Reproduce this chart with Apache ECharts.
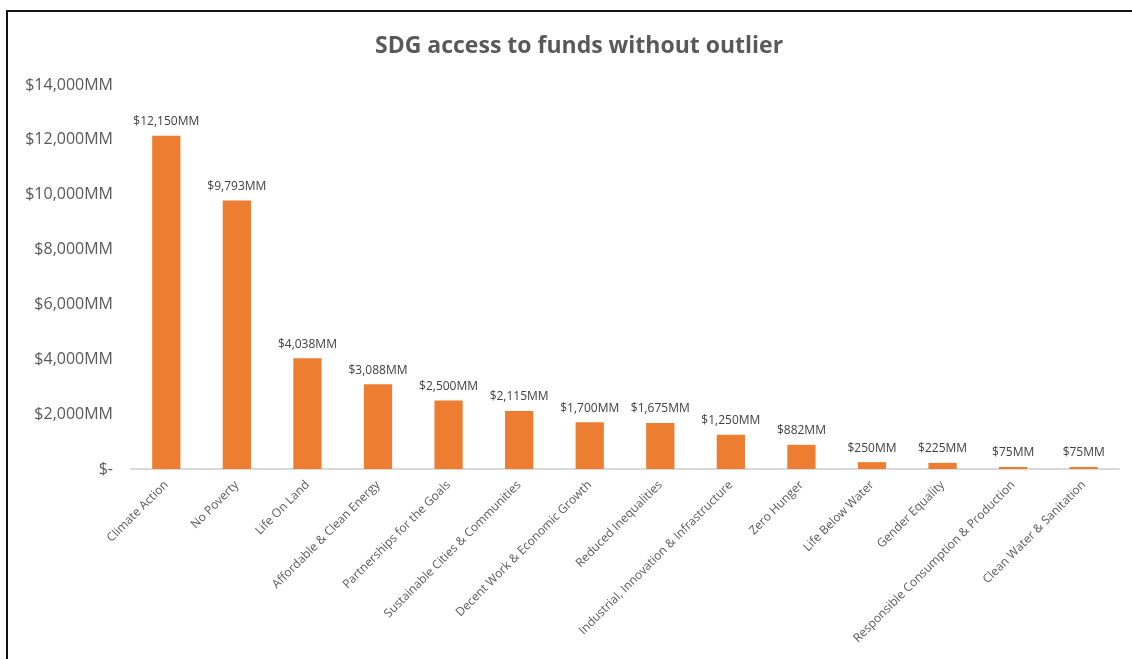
<!DOCTYPE html>
<html>
<head>
<meta charset="utf-8">
<script src="https://cdn.jsdelivr.net/npm/echarts@6/dist/echarts.min.js"></script>
<style>
  html, body { margin: 0; padding: 0; background: #fff; }
  #chart { width: 1132px; height: 659px; }
  #frame {
    position: absolute; left: 6px; top: 10px; right: 0; bottom: 0;
    border-left: 2px solid #111; border-top: 2px solid #111;
    pointer-events: none;
  }
</style>
</head>
<body>
<div id="chart"></div>
<div id="frame"></div>
<script>
// Funding per Sustainable Development Goal, in millions of dollars
const goals = [
  'Climate Action', 'No Poverty', 'Life On Land', 'Affordable & Clean Energy',
  'Partnerships for the Goals', 'Sustainable Cities & Communities',
  'Decent Work & Economic Growth', 'Reduced Inequalities',
  'Industrial, Innovation & Infrastructure', 'Zero Hunger', 'Life Below Water',
  'Gender Equality', 'Responsible Consumption & Production', 'Clean Water & Sanitation'
];
const fundsMM = [12150, 9793, 4038, 3088, 2500, 2115, 1700, 1675, 1250, 882, 250, 225, 75, 75];
const yTicks = { min: 0, max: 14000, step: 2000 };

const money = v => v === 0 ? '$-' : '$' + v.toLocaleString('en-US') + 'MM';
const font = '"Open Sans", "Liberation Sans", sans-serif';

const chart = echarts.init(document.getElementById('chart'));
chart.setOption({
  animation: false,
  title: {
    text: 'SDG access to funds without outlier',
    left: 370, top: 30,
    textStyle: { fontFamily: font, fontSize: 23, fontWeight: 'bold', color: '#595959' }
  },
  grid: { left: 131, right: 13, top: 85, bottom: 190, containLabel: false },
  xAxis: {
    type: 'category',
    data: goals,
    axisLine: { lineStyle: { color: '#d9d9d9', width: 2 } },
    axisTick: { show: false },
    axisLabel: {
      rotate: 45, interval: 0, margin: 14,
      fontFamily: font, fontSize: 12, color: '#595959'
    }
  },
  yAxis: {
    type: 'value',
    min: yTicks.min, max: yTicks.max, interval: yTicks.step,
    splitLine: { show: false },
    axisLine: { show: false },
    axisTick: { show: false },
    axisLabel: {
      margin: 18, fontFamily: font, fontSize: 16, color: '#595959',
      formatter: money
    }
  },
  series: [{
    type: 'bar',
    data: fundsMM,
    barWidth: '40%',
    itemStyle: { color: '#ED7D31' },
    label: {
      show: true, position: 'top', distance: 8,
      fontFamily: font, fontSize: 12, color: '#404040',
      formatter: p => money(p.value)
    }
  }]
});
</script>
</body>
</html>
